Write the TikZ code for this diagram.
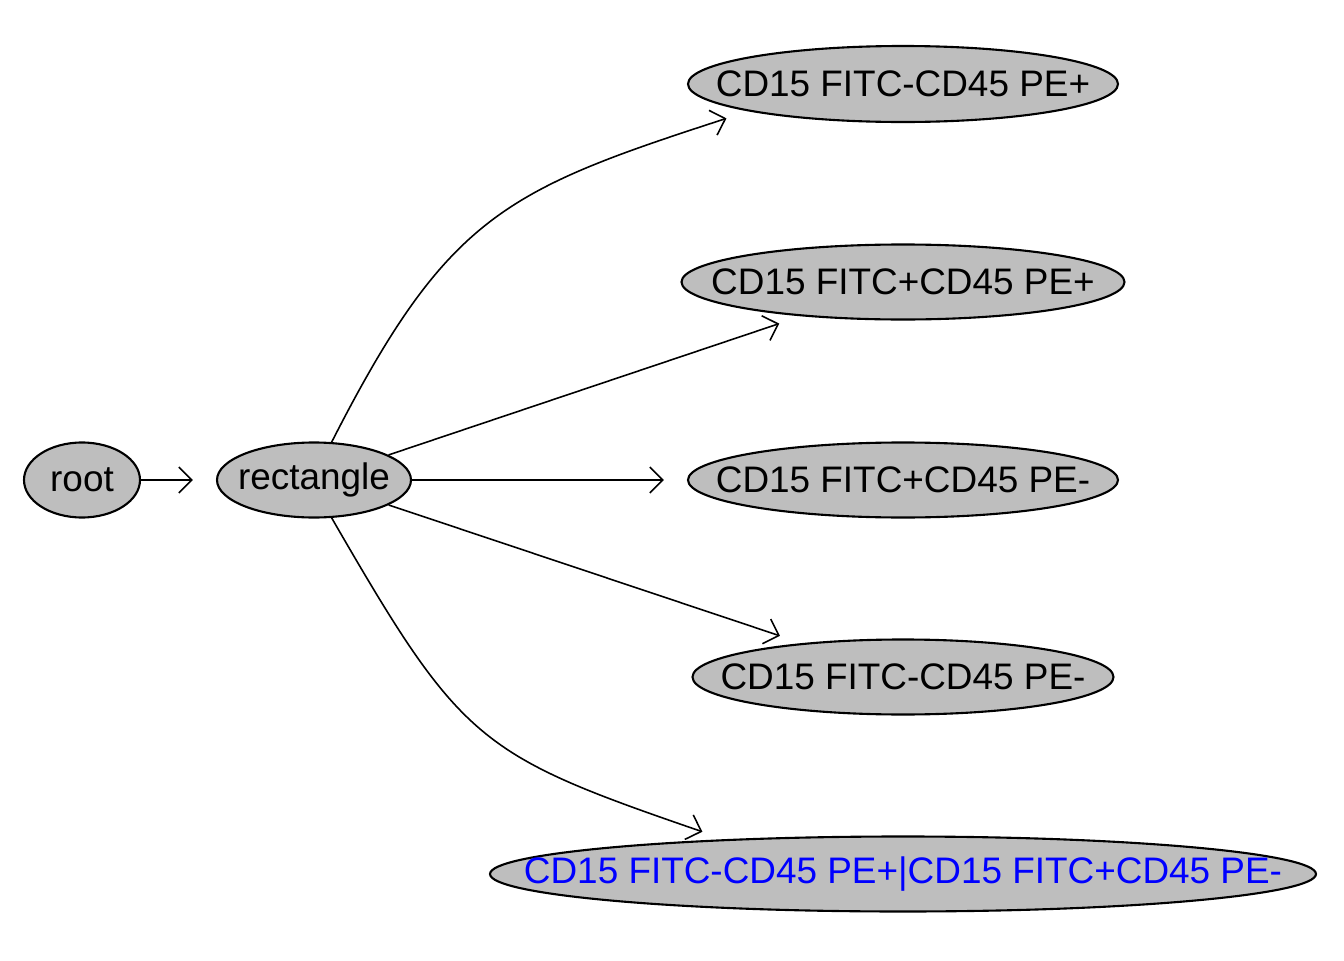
\documentclass[tikz,border=0pt]{standalone}
\usepackage{fontspec}
\setmainfont{Liberation Sans}
\usetikzlibrary{shapes.geometric,arrows.meta}

\definecolor{gatefill}{RGB}{190,190,190}
\definecolor{boolblue}{RGB}{0,0,255}
\newcommand{\gtxt}[1]{\makebox[0pt]{#1}}

\tikzset{
  gate/.style={ellipse, draw, line width=0.6pt, fill=gatefill, inner sep=0pt,
    minimum height=0.75cm, font=\fontsize{10.5}{12}\selectfont},
  gatearrow/.style={line width=0.45pt, -{Straight Barb[length=1.3mm,width=2.6mm]},
    shorten >=0.23cm}
}

\begin{document}
\begin{tikzpicture}
\useasboundingbox (0,0) rectangle (13.44,9.60);

\node[gate, minimum width=1.16cm] (root) at (0.82,4.80) {\gtxt{root}};
\node[gate, minimum width=1.94cm] (rect) at (3.14,4.80) {\gtxt{rectangle}};

\node[gate, minimum width=4.30cm, minimum height=0.76cm] (mp) at (9.03,8.76) {\gtxt{CD15 FITC-CD45 PE+}};
\node[gate, minimum width=4.43cm] (pp) at (9.03,6.78) {\gtxt{CD15 FITC+CD45 PE+}};
\node[gate, minimum width=4.30cm] (pm) at (9.03,4.80) {\gtxt{CD15 FITC+CD45 PE-}};
\node[gate, minimum width=4.21cm] (mm) at (9.03,2.83) {\gtxt{CD15 FITC-CD45 PE-}};
\node[gate, minimum width=8.26cm, text=boolblue] (bool) at (9.03,0.86) {\gtxt{CD15 FITC-CD45 PE+|CD15 FITC+CD45 PE-}};

\draw[gatearrow] (root) -- (rect);
\draw[gatearrow] (rect.65) .. controls +(63:2.55) and +(198:2.55) .. (mp.190);
\draw[gatearrow] (rect) -- (pp);
\draw[gatearrow] (rect) -- (pm);
\draw[gatearrow] (rect) -- (mm);
\draw[gatearrow] (rect.-65) .. controls +(-60:2.6) and +(161:2.6) .. (bool.169);

\end{tikzpicture}
\end{document}
